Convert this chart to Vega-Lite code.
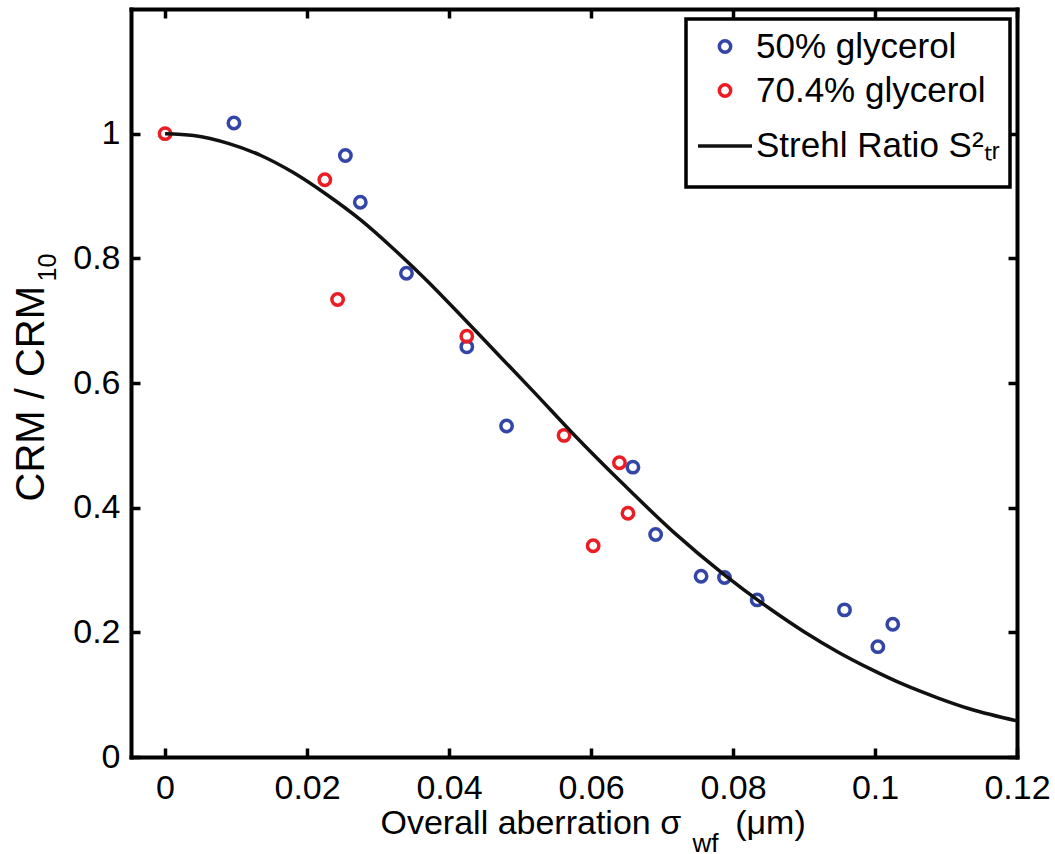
{
  "$schema": "https://vega.github.io/schema/vega-lite/v6.json",
  "width": 886,
  "height": 748,
  "autosize": "none",
  "padding": {"left": 131, "top": 9, "right": 38, "bottom": 97},
  "background": "white",
  "config": {
    "view": {"stroke": null},
    "axis": {
      "grid": false,
      "domainColor": "black",
      "domainWidth": 4,
      "domainCap": "square",
      "tickColor": "black",
      "tickWidth": 3.5,
      "tickSize": -9,
      "labelFont": "Liberation Sans",
      "labelFontSize": 34,
      "labelColor": "black",
      "labelFlush": false,
      "labelOverlap": false,
      "labelLimit": 400,
      "titleFont": "Liberation Sans",
      "titleColor": "black",
      "titleFontWeight": "normal"
    },
    "legend": {
      "orient": "none",
      "legendX": 555,
      "legendY": 10,
      "strokeColor": "black",
      "strokeWidth": 3.5,
      "fillColor": "white",
      "padding": 10,
      "labelFont": "Liberation Sans",
      "labelFontSize": 35,
      "labelColor": "black",
      "labelLimit": 500,
      "labelOffset": 2,
      "symbolStrokeWidth": 3.5,
      "rowPadding": 8
    }
  },
  "datasets": {
    "g50": [
      {"series": "50% glycerol", "sigma": 0.0097, "crm": 1.017},
      {"series": "50% glycerol", "sigma": 0.0254, "crm": 0.965},
      {"series": "50% glycerol", "sigma": 0.0275, "crm": 0.890},
      {"series": "50% glycerol", "sigma": 0.0340, "crm": 0.776},
      {"series": "50% glycerol", "sigma": 0.0425, "crm": 0.658},
      {"series": "50% glycerol", "sigma": 0.0481, "crm": 0.531},
      {"series": "50% glycerol", "sigma": 0.0659, "crm": 0.465},
      {"series": "50% glycerol", "sigma": 0.0691, "crm": 0.357},
      {"series": "50% glycerol", "sigma": 0.0755, "crm": 0.290},
      {"series": "50% glycerol", "sigma": 0.0788, "crm": 0.288},
      {"series": "50% glycerol", "sigma": 0.0834, "crm": 0.252},
      {"series": "50% glycerol", "sigma": 0.0957, "crm": 0.236},
      {"series": "50% glycerol", "sigma": 0.1004, "crm": 0.177},
      {"series": "50% glycerol", "sigma": 0.1025, "crm": 0.213}
    ],
    "g70": [
      {"series": "70.4% glycerol", "sigma": 0.0, "crm": 1.0},
      {"series": "70.4% glycerol", "sigma": 0.0225, "crm": 0.926},
      {"series": "70.4% glycerol", "sigma": 0.0243, "crm": 0.734},
      {"series": "70.4% glycerol", "sigma": 0.0425, "crm": 0.675},
      {"series": "70.4% glycerol", "sigma": 0.0562, "crm": 0.516},
      {"series": "70.4% glycerol", "sigma": 0.0640, "crm": 0.472},
      {"series": "70.4% glycerol", "sigma": 0.0652, "crm": 0.391},
      {"series": "70.4% glycerol", "sigma": 0.0603, "crm": 0.339}
    ],
    "strehl": [
      {"series": "Strehl Ratio S²ₜᵣ", "sigma": 0.0, "crm": 1.0},
      {"series": "Strehl Ratio S²ₜᵣ", "sigma": 0.004, "crm": 0.997},
      {"series": "Strehl Ratio S²ₜᵣ", "sigma": 0.009, "crm": 0.984},
      {"series": "Strehl Ratio S²ₜᵣ", "sigma": 0.0135, "crm": 0.965},
      {"series": "Strehl Ratio S²ₜᵣ", "sigma": 0.018, "crm": 0.938},
      {"series": "Strehl Ratio S²ₜᵣ", "sigma": 0.0228, "crm": 0.902},
      {"series": "Strehl Ratio S²ₜᵣ", "sigma": 0.0275, "crm": 0.862},
      {"series": "Strehl Ratio S²ₜᵣ", "sigma": 0.0322, "crm": 0.815},
      {"series": "Strehl Ratio S²ₜᵣ", "sigma": 0.0369, "crm": 0.764},
      {"series": "Strehl Ratio S²ₜᵣ", "sigma": 0.0416, "crm": 0.709},
      {"series": "Strehl Ratio S²ₜᵣ", "sigma": 0.0468, "crm": 0.647},
      {"series": "Strehl Ratio S²ₜᵣ", "sigma": 0.0520, "crm": 0.585},
      {"series": "Strehl Ratio S²ₜᵣ", "sigma": 0.0576, "crm": 0.517},
      {"series": "Strehl Ratio S²ₜᵣ", "sigma": 0.0646, "crm": 0.437},
      {"series": "Strehl Ratio S²ₜᵣ", "sigma": 0.0717, "crm": 0.360},
      {"series": "Strehl Ratio S²ₜᵣ", "sigma": 0.0787, "crm": 0.293},
      {"series": "Strehl Ratio S²ₜᵣ", "sigma": 0.0853, "crm": 0.237},
      {"series": "Strehl Ratio S²ₜᵣ", "sigma": 0.0900, "crm": 0.201},
      {"series": "Strehl Ratio S²ₜᵣ", "sigma": 0.0947, "crm": 0.169},
      {"series": "Strehl Ratio S²ₜᵣ", "sigma": 0.0994, "crm": 0.141},
      {"series": "Strehl Ratio S²ₜᵣ", "sigma": 0.1041, "crm": 0.116},
      {"series": "Strehl Ratio S²ₜᵣ", "sigma": 0.1088, "crm": 0.095},
      {"series": "Strehl Ratio S²ₜᵣ", "sigma": 0.1134, "crm": 0.077},
      {"series": "Strehl Ratio S²ₜᵣ", "sigma": 0.1200, "crm": 0.058}
    ]
  },
  "layer": [
    {
      "data": {"name": "g50"},
      "mark": {"type": "point", "filled": false, "strokeWidth": 3.5, "opacity": 1},
      "encoding": {
        "x": {
          "field": "sigma", "type": "quantitative",
          "scale": {"domain": [-0.0048, 0.12], "nice": false, "zero": false},
          "axis": {
            "orient": "bottom",
            "values": [0, 0.02, 0.04, 0.06, 0.08, 0.1, 0.12],
            "format": ".2~f",
            "labelPadding": 23,
            "title": "Overall aberration σ\u00a0\u00a0\u00a0\u00a0\u00a0\u2009(μm)",
            "titleFontSize": 34,
            "titleAlign": "left",
            "titleBaseline": "alphabetic",
            "titleX": 249,
            "titleY": 76
          }
        },
        "y": {
          "field": "crm", "type": "quantitative",
          "scale": {"domain": [0, 1.2], "nice": false, "zero": false},
          "axis": {
            "orient": "left",
            "values": [0, 0.2, 0.4, 0.6, 0.8, 1],
            "format": ".1~f",
            "labelPadding": 20,
            "title": "CRM / CRM",
            "titleFontSize": 40,
            "titleAngle": 270,
            "titleAlign": "left",
            "titleBaseline": "alphabetic",
            "titleX": -88,
            "titleY": 492
          }
        },
        "color": {
          "field": "series", "type": "nominal",
          "scale": {"domain": ["50% glycerol", "70.4% glycerol", "Strehl Ratio S²ₜᵣ"], "range": ["#3346a8", "#ec1c24", "#111111"]},
          "legend": {"title": "\u00a0", "titleOrient": "bottom", "titleFontSize": 12, "titlePadding": 2}
        },
        "shape": {
          "field": "series", "type": "nominal",
          "scale": {"domain": ["50% glycerol", "70.4% glycerol", "Strehl Ratio S²ₜᵣ"], "range": ["circle", "circle", "stroke"]},
          "legend": {"title": "\u00a0", "titleOrient": "bottom", "titleFontSize": 12, "titlePadding": 2}
        },
        "size": {
          "field": "series", "type": "nominal",
          "scale": {"type": "ordinal", "domain": ["50% glycerol", "70.4% glycerol", "Strehl Ratio S²ₜᵣ"], "range": [130, 130, 2916]},
          "legend": {"title": "\u00a0", "titleOrient": "bottom", "titleFontSize": 12, "titlePadding": 2}
        }
      }
    },
    {
      "data": {"name": "g70"},
      "mark": {"type": "point", "filled": false, "strokeWidth": 3.5, "opacity": 1},
      "encoding": {
        "x": {
          "field": "sigma", "type": "quantitative",
          "axis": {
            "orient": "bottom",
            "domain": false, "ticks": false, "labels": false,
            "title": "wf",
            "titleFontSize": 26,
            "titleAlign": "left",
            "titleBaseline": "alphabetic",
            "titleX": 561,
            "titleY": 94
          }
        },
        "y": {
          "field": "crm", "type": "quantitative",
          "axis": {
            "orient": "left",
            "domain": false, "ticks": false, "labels": false,
            "title": "10",
            "titleFontSize": 25,
            "titleAngle": 270,
            "titleAlign": "left",
            "titleBaseline": "alphabetic",
            "titleX": -76,
            "titleY": 272
          }
        },
        "color": {
          "field": "series", "type": "nominal",
          "scale": {"domain": ["50% glycerol", "70.4% glycerol", "Strehl Ratio S²ₜᵣ"], "range": ["#3346a8", "#ec1c24", "#111111"]}
        },
        "shape": {
          "field": "series", "type": "nominal",
          "scale": {"domain": ["50% glycerol", "70.4% glycerol", "Strehl Ratio S²ₜᵣ"], "range": ["circle", "circle", "stroke"]}
        },
        "size": {
          "field": "series", "type": "nominal",
          "scale": {"type": "ordinal", "domain": ["50% glycerol", "70.4% glycerol", "Strehl Ratio S²ₜᵣ"], "range": [130, 130, 2916]}
        }
      }
    },
    {
      "data": {"name": "strehl"},
      "mark": {"type": "line", "strokeWidth": 3.5, "interpolate": "monotone"},
      "encoding": {
        "x": {
          "field": "sigma", "type": "quantitative",
          "axis": {"orient": "top", "values": [0, 0.02, 0.04, 0.06, 0.08, 0.1, 0.12], "labels": false, "title": null}
        },
        "y": {
          "field": "crm", "type": "quantitative",
          "axis": {"orient": "right", "values": [0, 0.2, 0.4, 0.6, 0.8, 1], "labels": false, "title": null}
        },
        "color": {
          "field": "series", "type": "nominal",
          "scale": {"domain": ["50% glycerol", "70.4% glycerol", "Strehl Ratio S²ₜᵣ"], "range": ["#3346a8", "#ec1c24", "#111111"]}
        }
      }
    }
  ],
  "resolve": {"axis": {"x": "independent", "y": "independent"}}
}
